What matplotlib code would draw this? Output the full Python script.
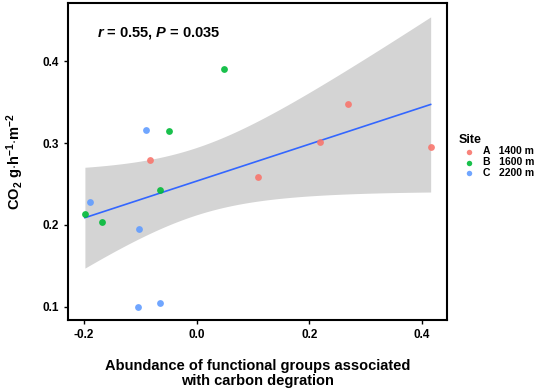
import numpy as np
import matplotlib
matplotlib.use("Agg")
import matplotlib.pyplot as plt

plt.rcParams['font.family'] = ['Liberation Sans', 'DejaVu Sans']
plt.rcParams['mathtext.fontset'] = 'custom'
plt.rcParams['mathtext.rm'] = 'Liberation Sans:bold'
plt.rcParams['mathtext.it'] = 'Liberation Sans:bold:italic'
plt.rcParams['mathtext.bf'] = 'Liberation Sans:bold'

sites = ["A", "B", "C"]
site_labels = ["1400 m", "1600 m", "2200 m"]
colors = ["#F8766D", "#00BA38", "#619CFF"]

x_a = [-0.083, 0.109, 0.218, 0.268, 0.415]
y_a = [0.279, 0.259, 0.301, 0.348, 0.295]
x_b = [0.049, -0.049, -0.065, -0.198, -0.168]
y_b = [0.390, 0.315, 0.243, 0.213, 0.204]
x_c = [-0.090, -0.189, -0.102, -0.104, -0.065]
y_c = [0.316, 0.228, 0.195, 0.100, 0.105]

xs = [x_a, x_b, x_c]
ys = [y_a, y_b, y_c]

# linear fit with 95% confidence band (like geom_smooth(method="lm"))
x_all = np.array(x_a + x_b + x_c)
y_all = np.array(y_a + y_b + y_c)
n = len(x_all)
slope, intercept = np.polyfit(x_all, y_all, 1)
resid = y_all - (slope * x_all + intercept)
s = np.sqrt(np.sum(resid ** 2) / (n - 2))
t_crit = 2.160  # t(0.975, df=13)
xg = np.linspace(x_all.min(), x_all.max(), 100)
yg = slope * xg + intercept
se = s * np.sqrt(1 / n + (xg - x_all.mean()) ** 2 / np.sum((x_all - x_all.mean()) ** 2))

fig = plt.figure(figsize=(5.5, 3.92), dpi=100)
ax = fig.add_axes([68 / 550, 1 - 320 / 392, (447 - 68) / 550, (320 - 3) / 392])

ax.fill_between(xg, yg - t_crit * se, yg + t_crit * se, color="#D4D4D4", lw=0, zorder=1)
ax.plot(xg, yg, color="#3366FF", lw=1.2, zorder=2)

for i in range(3):
    ax.scatter(xs[i], ys[i], s=24, color=colors[i], alpha=0.9, lw=0, zorder=3,
               label=f"{sites[i]}   {site_labels[i]}")

ax.set_xlim(-0.228, 0.444)
ax.set_ylim(0.084, 0.471)
ax.set_xticks([-0.2, 0.0, 0.2, 0.4])
ax.set_xticklabels(["-0.2", "0.0", "0.2", "0.4"])
ax.set_yticks([0.1, 0.2, 0.3, 0.4])
ax.set_yticklabels(["0.1", "0.2", "0.3", "0.4"])
ax.tick_params(labelsize=8.5, width=1, length=3, colors="black")
for lab in ax.get_xticklabels() + ax.get_yticklabels():
    lab.set_fontweight("bold")
for sp in ax.spines.values():
    sp.set_linewidth(1.5)
    sp.set_color("black")

ax.text(-0.177, 0.434, r"$r$ = 0.55, $P$ = 0.035", fontsize=10.5, fontweight="bold", va="center")

ax.set_xlabel("Abundance of functional groups associated\nwith carbon degration",
              fontsize=10.5, fontweight="bold", labelpad=13, linespacing=1.05)
ax.set_ylabel(r"CO$_2$ g$\cdot$h$^{-1}$$\cdot$m$^{-2}$", fontsize=10.5, fontweight="bold", labelpad=12)

leg = ax.legend(title="Site", loc="upper left", bbox_to_anchor=(1.02, 0.6), frameon=False,
                fontsize=7.5, title_fontsize=9, handletextpad=0.3, labelspacing=0.05,
                borderaxespad=0, markerscale=0.8, handleheight=0.6)
leg.get_title().set_fontweight("bold")
leg._legend_box.align = "left"
for t in leg.get_texts():
    t.set_fontweight("bold")

fig.savefig("out.png", dpi=100)
